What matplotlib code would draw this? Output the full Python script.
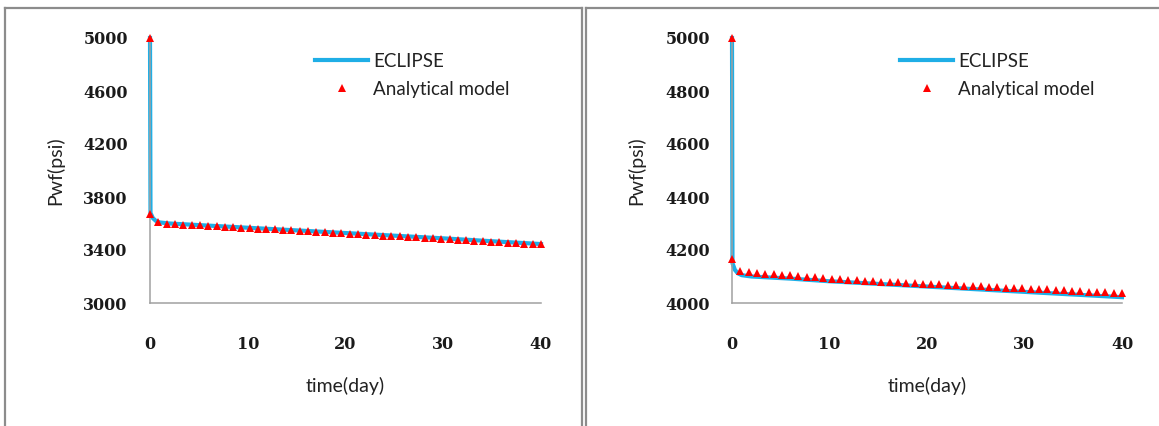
import matplotlib
matplotlib.use("Agg")
import matplotlib.pyplot as plt
from matplotlib.lines import Line2D

# ---------------- data ----------------
ecl_t_left = [0, 0.05, 0.3, 0.6, 1, 2, 5, 10, 15, 20, 25, 30, 35, 40]
ecl_p_left = [5000, 3680, 3640, 3620, 3608, 3600, 3588, 3568, 3548, 3528, 3508, 3488, 3466, 3445]

ana_t = [0, 0, 0.85, 1.70, 2.55, 3.40, 4.26, 5.11, 5.96, 6.81, 7.66, 8.51, 9.36, 10.21,
         11.06, 11.91, 12.77, 13.62, 14.47, 15.32, 16.17, 17.02, 17.87, 18.72, 19.57,
         20.43, 21.28, 22.13, 22.98, 23.83, 24.68, 25.53, 26.38, 27.23, 28.09, 28.94,
         29.79, 30.64, 31.49, 32.34, 33.19, 34.04, 34.89, 35.74, 36.60, 37.45, 38.30,
         39.15, 40.00]
ana_p_left = [5000, 3670, 3612, 3600, 3594, 3592, 3589, 3586, 3583, 3579, 3576, 3572, 3569,
              3565, 3562, 3558, 3555, 3551, 3548, 3544, 3541, 3537, 3534, 3530, 3527, 3523,
              3520, 3516, 3513, 3509, 3506, 3502, 3498, 3495, 3491, 3488, 3484, 3481, 3477,
              3474, 3470, 3467, 3463, 3460, 3456, 3453, 3449, 3446, 3442]

ecl_t_right = [0, 0.05, 0.3, 0.6, 1, 2, 4, 6, 10, 16, 22, 28, 34, 40]
ecl_p_right = [5000, 4150, 4125, 4112, 4105, 4100, 4096, 4092, 4082, 4070, 4058, 4046, 4034, 4022]
ana_p_right = [5000, 4165, 4122, 4116, 4113, 4111, 4109, 4106, 4104, 4101, 4099, 4097, 4094,
               4092, 4090, 4088, 4086, 4084, 4082, 4081, 4079, 4078, 4076, 4075, 4073, 4072,
               4070, 4069, 4067, 4066, 4064, 4063, 4061, 4060, 4058, 4057, 4055, 4054, 4052,
               4051, 4049, 4048, 4046, 4045, 4043, 4042, 4040, 4039, 4037]

x_ticks = [0, 10, 20, 30, 40]
y_ticks_left = [3000, 3400, 3800, 4200, 4600, 5000]
y_ticks_right = [4000, 4200, 4400, 4600, 4800, 5000]
x_label = "time(day)"
y_label = "Pwf(psi)"
series_names = ["ECLIPSE", "Analytical model"]

# ---------------- figure ----------------
W, H = 1159, 426
fig = plt.figure(figsize=(W / 100, H / 100), dpi=100)
fig.patch.set_facecolor("white")

LINE_C = "#1FAEE6"
MARK_C = "#FF0000"
SPINE_C = "#A0A0A0"
TICK_FONT = dict(family="DejaVu Serif", weight="bold", size=11.5)
LABEL_FONT = "Lato"


def px_rect(x0, x1, y_top, y_bot):
    return [x0 / W, 1 - y_bot / H, (x1 - x0) / W, (y_bot - y_top) / H]


def panel(rect, et, ep, at, ap, yticks, ylim, leg_x, ylab_x):
    ax = fig.add_axes(rect)
    ax.plot(et, ep, color=LINE_C, lw=3.0, solid_joinstyle="round", clip_on=False,
            label=series_names[0], zorder=2)
    ax.plot(at, ap, linestyle="none", marker="^", color=MARK_C, markersize=6,
            markeredgewidth=0, clip_on=False, label=series_names[1], zorder=3)
    ax.set_xlim(0, 40)
    ax.set_ylim(*ylim)
    ax.set_xticks(x_ticks)
    ax.set_yticks(yticks)
    ax.set_xticklabels([str(v) for v in x_ticks], fontdict=TICK_FONT, color="#1a1a1a")
    ax.set_yticklabels([str(v) for v in yticks], fontdict=TICK_FONT, color="#1a1a1a")
    ax.tick_params(axis="both", length=0)
    ax.tick_params(axis="x", pad=24)
    ax.tick_params(axis="y", pad=16)
    for s in ("top", "right"):
        ax.spines[s].set_visible(False)
    for s in ("left", "bottom"):
        ax.spines[s].set_color(SPINE_C)
        ax.spines[s].set_linewidth(1.1)
    ax.set_xlabel(x_label, fontsize=14, family=LABEL_FONT, color="#222222")
    ax.set_ylabel(y_label, fontsize=14, family=LABEL_FONT, color="#222222")
    ax.xaxis.set_label_coords(0.5, (302 - 376) / 265, transform=ax.transAxes)
    ax.yaxis.set_label_coords((ylab_x + 9 - rect[0] * W) / (rect[2] * W), 0.5,
                              transform=ax.transAxes)
    leg = ax.legend(loc="upper left", bbox_to_anchor=(leg_x / W, 1 - 53 / H),
                    bbox_transform=fig.transFigure, frameon=False, numpoints=1,
                    handlelength=2.85, handletextpad=0.25, labelspacing=0.58,
                    borderpad=0, borderaxespad=0,
                    prop=dict(family=LABEL_FONT, size=13.5))
    for t in leg.get_texts():
        t.set_color("#222222")
    return ax


panel(px_rect(150, 541, 38, 303), ecl_t_left, ecl_p_left, ana_t, ana_p_left,
      y_ticks_left, (3000, 5000), 315, 55)
panel(px_rect(732, 1122, 38, 303), ecl_t_right, ecl_p_right, ana_t, ana_p_right,
      y_ticks_right, (4000, 5000), 900, 636)

# panel frames
FRAME_C = "#8C8C8C"
frame_lines = [
    ([5, 5], [8, 426]),
    ([5, 582], [8, 8]),
    ([582, 582], [8, 426]),
    ([586, 586], [8, 426]),
    ([586, 1159], [8, 8]),
]
for xs, ys in frame_lines:
    fig.add_artist(Line2D([x / W for x in xs], [1 - y / H for y in ys],
                          transform=fig.transFigure, color=FRAME_C, lw=1.6))

fig.savefig("out.png", dpi=100, facecolor="white")
